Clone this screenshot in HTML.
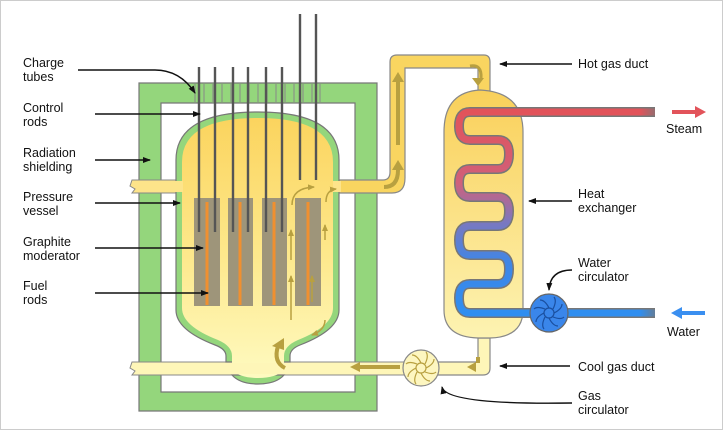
<!DOCTYPE html>
<html><head><meta charset="utf-8"><style>
html,body{margin:0;padding:0;background:#fff}
svg{display:block}
text{font-family:"Liberation Sans",sans-serif;font-size:12.5px;fill:#111}
</style></head><body>
<svg width="723" height="431" viewBox="0 0 723 431" xmlns="http://www.w3.org/2000/svg">
<defs>
<linearGradient id="vg" x1="0" y1="0" x2="0" y2="1"><stop offset="0" stop-color="#fbd45e"/><stop offset="0.55" stop-color="#fde98e"/><stop offset="1" stop-color="#fefac0"/></linearGradient>
<linearGradient id="hg" x1="0" y1="0" x2="0" y2="1"><stop offset="0" stop-color="#f9d05a"/><stop offset="1" stop-color="#fdf3b2"/></linearGradient>
<linearGradient id="cg" x1="0" y1="0" x2="0" y2="1"><stop offset="0" stop-color="#e2535a"/><stop offset="0.35" stop-color="#d0607a"/><stop offset="0.55" stop-color="#7a78c0"/><stop offset="0.75" stop-color="#3f86e6"/><stop offset="1" stop-color="#2f8ef0"/></linearGradient>
<linearGradient id="sf" x1="0" y1="0" x2="1" y2="0"><stop offset="0.8" stop-color="#e2535a"/><stop offset="1" stop-color="#e2535a" stop-opacity="0"/></linearGradient>
<linearGradient id="wf" x1="0" y1="0" x2="1" y2="0"><stop offset="0.8" stop-color="#2f8ef0"/><stop offset="1" stop-color="#2f8ef0" stop-opacity="0"/></linearGradient>
<marker id="ah" markerWidth="8" markerHeight="8" refX="7" refY="4" orient="auto" markerUnits="userSpaceOnUse"><path d="M0,1 L8,4 L0,7 Z" fill="#111"/></marker>
<marker id="oa" markerWidth="7" markerHeight="7" refX="6" refY="3.5" orient="auto" markerUnits="userSpaceOnUse"><path d="M0,0.5 L7,3.5 L0,6.5 Z" fill="#b8a040"/></marker>
</defs>
<rect x="0.5" y="0.5" width="722" height="429" fill="#fff" stroke="#ccc"/>

<!-- shielding -->
<path d="M139,83 H377 V411 H139 Z M161,103 V392 H355 V103 Z" fill="#94d67c" stroke="#777" stroke-width="1.2" fill-rule="evenodd"/>
<g stroke="#888" stroke-width="1">
<line x1="195" y1="84" x2="195" y2="102"/><line x1="204" y1="84" x2="204" y2="102"/><line x1="213" y1="84" x2="213" y2="102"/><line x1="222" y1="84" x2="222" y2="102"/><line x1="231" y1="84" x2="231" y2="102"/><line x1="240" y1="84" x2="240" y2="102"/><line x1="249" y1="84" x2="249" y2="102"/><line x1="258" y1="84" x2="258" y2="102"/><line x1="267" y1="84" x2="267" y2="102"/><line x1="276" y1="84" x2="276" y2="102"/><line x1="285" y1="84" x2="285" y2="102"/><line x1="294" y1="84" x2="294" y2="102"/><line x1="303" y1="84" x2="303" y2="102"/><line x1="312" y1="84" x2="312" y2="102"/><line x1="320" y1="84" x2="320" y2="102"/>
</g>

<!-- gas lines -->
<path d="M132,180 H180 V193 H132 L135,189 L130,186 Z" fill="#fde48a" stroke="#888" stroke-width="1"/>
<path d="M132,362 H404 V375 H132 L135,371 L130,368 Z" fill="#fef6b8" stroke="#888" stroke-width="1"/>
<path d="M336,180 H383 Q390,180 390,172 V62 Q390,55 397,55 H484 Q490,55 490,62 V92 H478 V68 H405 V178 Q405,193 392,193 H336 Z" fill="#f9d560" stroke="#888" stroke-width="1.2"/>
<path d="M438,362 H478 V338 H490 V368 Q490,375 483,375 H438 Z" fill="#fef6b8" stroke="#888" stroke-width="1.2"/>

<!-- pressure vessel -->
<path d="M176,310 V160 Q176,112 258,112 Q339,112 339,160 V310 Q339,330 300,345 Q290,349 290,356 V362 H226 V356 Q226,349 215,345 Q176,330 176,310 Z" fill="#94d67c" stroke="#777" stroke-width="1.2"/>
<path d="M232,375 Q240,384 258,384 Q276,384 284,375 Z" fill="#94d67c" stroke="#777" stroke-width="1.2"/>
<path d="M182,308 V162 Q182,118 258,118 Q333,118 333,162 V308 Q333,326 298,340 Q284,346 284,356 V370 Q276,378 258,378 Q240,378 232,370 V356 Q232,346 218,340 Q182,326 182,308 Z" fill="url(#vg)"/>
<rect x="182" y="363" width="102" height="11" fill="#fef6b8"/>
<rect x="333" y="181" width="8" height="11" fill="#fde48a"/>
<rect x="174" y="181" width="9" height="11" fill="#fde48a"/>

<!-- graphite + fuel -->
<g fill="#9e957a"><rect x="194" y="198" width="26" height="108"/><rect x="228" y="198" width="25" height="108"/><rect x="262" y="198" width="25" height="108"/><rect x="295" y="198" width="26" height="108"/></g>
<g stroke="#f09030" stroke-width="3"><line x1="207" y1="202" x2="207" y2="305"/><line x1="240" y1="202" x2="240" y2="305"/><line x1="274" y1="202" x2="274" y2="305"/><line x1="308" y1="202" x2="308" y2="305"/></g>
<!-- control rods -->
<g stroke="#555" stroke-width="2.4">
<line x1="199" y1="67" x2="199" y2="232"/><line x1="215" y1="67" x2="215" y2="232"/><line x1="233" y1="67" x2="233" y2="232"/><line x1="248" y1="67" x2="248" y2="232"/><line x1="266" y1="67" x2="266" y2="232"/><line x1="282" y1="67" x2="282" y2="232"/>
<line x1="300" y1="14" x2="300" y2="180"/><line x1="316" y1="14" x2="316" y2="180"/>
</g>
<!-- flow arrows -->
<g stroke="#b8a040" stroke-width="1.5" fill="none" marker-end="url(#oa)">
<path d="M292,205 Q292,188 314,187"/><path d="M326,202 Q326,190 336,189"/>
<path d="M291,320 V276"/><path d="M291,260 V230"/><path d="M325,240 V225"/><path d="M325,320 Q325,330 312,335"/><path d="M312,302 V276"/>
</g>
<g stroke="#b8a040" stroke-width="4" fill="none">
<path d="M285,368 Q273,362 278,346"/><path d="M384,187 Q398,187 398,170"/>
<line x1="398" y1="145" x2="398" y2="80"/><line x1="400" y1="367" x2="360" y2="367"/><line x1="478" y1="357" x2="478" y2="363"/>
</g>
<g fill="#b8a040"><path d="M272,346 L284,338 L284,350 Z"/><path d="M392,170 L398,160 L404,170 Z"/><path d="M392,82 L398,72 L404,82 Z"/><path d="M360,362 L350,367 L360,372 Z"/><path d="M478,143 L472,133 H484 Z"/><path d="M478,86 L472,78 H484 Z"/><path d="M467,367 L476,362 L476,372 Z"/></g>
<path d="M470,66 Q482,64 481,78" stroke="#b8a040" stroke-width="3" fill="none"/>

<!-- heat exchanger -->
<path d="M444,132 Q444,92 480,90 Q523,92 523,132 V310 Q523,337 490,338 H478 Q444,337 444,310 Z" fill="url(#hg)" stroke="#888" stroke-width="1.2"/>
<path d="M660,112 H470 Q459,112 459,126 Q459,140 470,140 H498 Q509,140 509,154 Q509,169 498,169 H470 Q459,169 459,183 Q459,197 470,197 H498 Q509,197 509,211 Q509,226 498,226 H470 Q459,226 459,240 Q459,255 470,255 H498 Q509,255 509,269 Q509,284 498,284 H470 Q459,284 459,298 Q459,313 470,313 H660" fill="none" stroke="#777" stroke-width="10"/>
<path d="M560,112 H470 Q459,112 459,126 Q459,140 470,140 H498 Q509,140 509,154 Q509,169 498,169 H470 Q459,169 459,183 Q459,197 470,197 H498 Q509,197 509,211 Q509,226 498,226 H470 Q459,226 459,240 Q459,255 470,255 H498 Q509,255 509,269 Q509,284 498,284 H470 Q459,284 459,298 Q459,313 470,313 H560" fill="none" stroke="url(#cg)" stroke-width="7"/>
<rect x="555" y="108.5" width="106" height="7" fill="url(#sf)"/>
<rect x="555" y="309.5" width="106" height="7" fill="url(#wf)"/>
<rect x="655" y="106" width="8" height="14" fill="#fff"/><rect x="655" y="307" width="8" height="14" fill="#fff"/>
<path d="M672,110 H695 V106 L706,112 L695,118 V114 H672 Z" fill="#e2535a"/>
<path d="M705,311 H682 V307 L671,313 L682,319 V315 H705 Z" fill="#3a8ff0"/>

<!-- circulators -->
<circle cx="549" cy="313" r="19" fill="#3a86ea" stroke="#666" stroke-width="1.2"/>
<circle cx="549" cy="313" r="5" fill="none" stroke="#1a4f9f" stroke-width="1.2"/>
<g stroke="#1a4f9f" stroke-width="1.2" fill="none"><path d="M549,308 Q545,300 540,300"/><path d="M554,313 Q562,309 562,304"/><path d="M549,318 Q553,326 558,326"/><path d="M544,313 Q536,317 536,322"/><path d="M553,309 Q557,301 554,297"/><path d="M545,317 Q541,325 544,329"/><path d="M545,309 Q537,306 534,309"/><path d="M553,317 Q561,320 564,317"/></g>
<circle cx="421" cy="368" r="18" fill="#fdf6c0" stroke="#888" stroke-width="1.2"/>
<circle cx="421" cy="368" r="5" fill="none" stroke="#b8a040" stroke-width="1.2"/>
<g stroke="#b8a040" stroke-width="1.2" fill="none"><path d="M421,363 Q417,355 412,355"/><path d="M426,368 Q434,364 434,359"/><path d="M421,373 Q425,381 430,381"/><path d="M416,368 Q408,372 408,377"/><path d="M425,364 Q429,356 426,352"/><path d="M417,372 Q413,380 416,384"/><path d="M417,364 Q409,361 406,364"/><path d="M425,372 Q433,375 436,372"/></g>

<!-- pointers -->
<g stroke="#111" stroke-width="1.4" fill="none" marker-end="url(#ah)">
<path d="M78,70 H155 Q180,70 195,93"/>
<line x1="95" y1="114" x2="200" y2="114"/>
<line x1="95" y1="160" x2="150" y2="160"/>
<line x1="95" y1="203" x2="180" y2="203"/>
<line x1="95" y1="248" x2="203" y2="248"/>
<line x1="95" y1="293" x2="208" y2="293"/>
<line x1="572" y1="64" x2="500" y2="64"/>
<line x1="572" y1="201" x2="529" y2="201"/>
<path d="M572,270 Q550,270 549,290"/>
<line x1="570" y1="366" x2="500" y2="366"/>
<path d="M572,403 Q446,405 442,387"/>
</g>

<!-- labels -->
<text x="23" y="67">Charge</text><text x="23" y="81">tubes</text>
<text x="23" y="112">Control</text><text x="23" y="126">rods</text>
<text x="23" y="157">Radiation</text><text x="23" y="171">shielding</text>
<text x="23" y="201">Pressure</text><text x="23" y="215">vessel</text>
<text x="23" y="246">Graphite</text><text x="23" y="260">moderator</text>
<text x="23" y="290">Fuel</text><text x="23" y="304">rods</text>
<text x="578" y="68">Hot gas duct</text>
<text x="666" y="133">Steam</text>
<text x="578" y="198">Heat</text><text x="578" y="212">exchanger</text>
<text x="578" y="267">Water</text><text x="578" y="281">circulator</text>
<text x="667" y="336">Water</text>
<text x="578" y="371">Cool gas duct</text>
<text x="578" y="400">Gas</text><text x="578" y="414">circulator</text>
</svg>
</body></html>
